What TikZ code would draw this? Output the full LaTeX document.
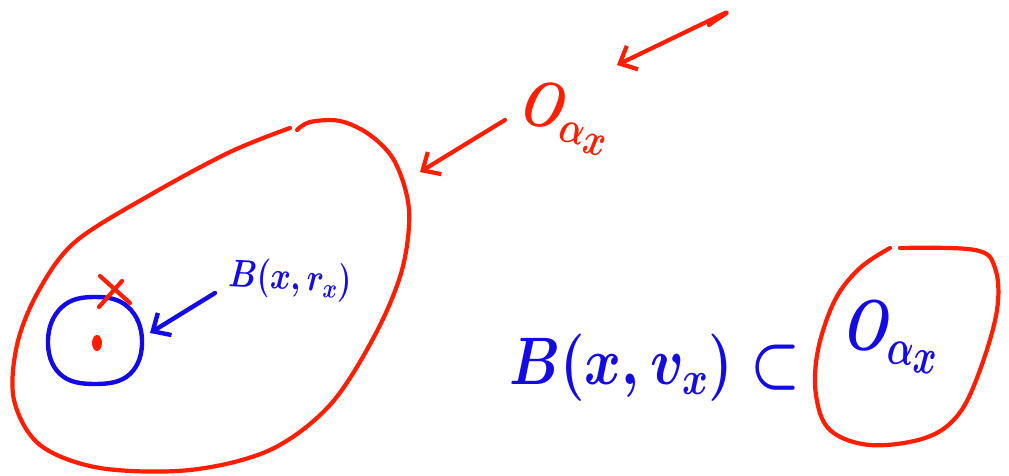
\documentclass[tikz,border=0pt]{standalone}
\usepackage{fix-cm}
\usepackage{graphicx}
\usetikzlibrary{arrows.meta}
\definecolor{penred}{RGB}{255,30,0}
\definecolor{penblue}{RGB}{20,10,230}
\begin{document}
\begin{tikzpicture}[x=1pt,y=-1pt,
  redpen/.style={draw=penred,line width=4.2pt,line cap=round,line join=round},
  bluepen/.style={draw=penblue,line width=4.4pt,line cap=round,line join=round},
  redtext/.style={text=penred,inner sep=0pt},
  bluetext/.style={text=penblue,inner sep=0pt},
  arrowhead/.style={-{Straight Barb[length=14pt,width=26pt,line width=4.2pt]}}]
\useasboundingbox (0,0) rectangle (1009,476);
% big region
\draw[redpen] plot[smooth,tension=0.55] coordinates {(290,128) (230,152) (150,195) (75,242) (38,292) (17,345) (14,400) (40,445) (100,468) (190,470) (270,450) (330,405) (375,335) (402,270) (409,210) (395,162) (370,135) (340,121) (310,122) (297,130)};
% small blue ball
\draw[bluepen] plot[smooth cycle,tension=0.7] coordinates {(95,297) (128,307) (142,340) (130,374) (95,384) (60,374) (48,340) (62,307)};
\fill[penred] (97,343) ellipse (5pt and 8pt);
% red cross
\coordinate (c1) at (100,276); \coordinate (c2) at (130,303);
\coordinate (c3) at (122,281); \coordinate (c4) at (99,307);
\draw[redpen] (c1) -- (c2); \draw[redpen] (c3) -- (c4);
% labels
\node[bluetext,font=\fontsize{31}{36}\selectfont\boldmath,rotate=-3] (blab) at (290,280) {\scalebox{1}[1.25]{$B(x,r_x)$}};
\coordinate (bs) at (215,293);
\coordinate (bt) at (150,333);
\draw[bluepen,-{Straight Barb[length=14pt,width=26pt,line width=4.4pt]}] (bs) -- (bt);
\node[redtext,font=\fontsize{48}{56}\selectfont\boldmath,rotate=-12] (olab) at (567,118) {\scalebox{1}[1.35]{$O_{\scriptstyle\alpha_{\scriptstyle x}}$}};
\coordinate (o1) at (505,120); \coordinate (o2) at (420,172);
\draw[redpen,arrowhead] (o1) -- (o2);
\coordinate (t0) at (709,25); \coordinate (t1) at (725,13); \coordinate (t2) at (617,65);
\draw[redpen,arrowhead] (t0) to[out=40,in=20] (t1) -- (t2);
% bottom formula
\node[bluetext,font=\fontsize{56}{64}\selectfont\boldmath] (form) at (655,368) {\scalebox{1}[1.2]{$B(x,v_{\scriptstyle x})\subset$}};
\draw[redpen] plot[smooth,tension=0.6] coordinates {(890,248) (860,268) (835,300) (818,350) (816,395) (830,430) (870,445) (925,438) (958,415) (980,370) (997,310) (995,268) (975,250) (900,248)};
\node[bluetext,font=\fontsize{50}{60}\selectfont\boldmath,rotate=-5] (olab2) at (893,337) {\scalebox{1}[1.45]{$O_{\scriptstyle\alpha_{\scriptstyle x}}$}};
\end{tikzpicture}
\end{document}
